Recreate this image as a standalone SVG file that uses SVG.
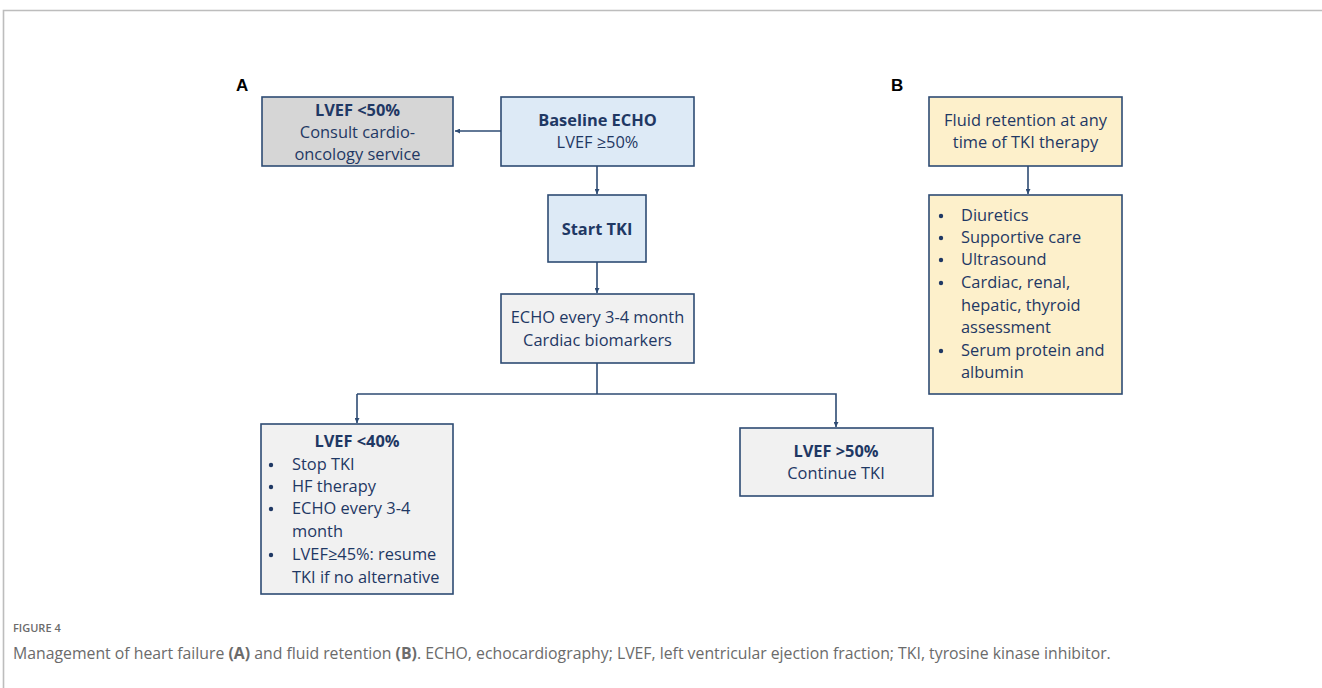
<svg xmlns="http://www.w3.org/2000/svg" width="1322" height="688" viewBox="0 0 1322 688">
  <style>
    .box { stroke: #2E4B73; stroke-width: 1.6; }
    .blue { fill: #DDEAF6; }
    .grey { fill: #D6D6D6; }
    .light { fill: #F1F1F1; }
    .yellow { fill: #FDF0CB; }
    .t { font-family: "Open Sans", "Liberation Sans", sans-serif; font-size: 16.4px; fill: #1F3864; }
    .b { font-weight: bold; }
    .mid { text-anchor: middle; }
    .dot { fill: #1F3864; }
    .panel { font-family: "Liberation Sans", Arial, sans-serif; font-size: 17px; font-weight: bold; fill: #000; }
    .conn { fill: none; stroke: #2E4B73; stroke-width: 1.6; }
    .cap-h { font-family: "Open Sans", "Liberation Sans", sans-serif; font-size: 11px; font-weight: 600; fill: #6B6B6B; }
    .cap { font-family: "Open Sans", "Liberation Sans", sans-serif; font-size: 15.8px; fill: #6B6B6B; }
  </style>
  <defs>
    <marker id="arrow" viewBox="0 0 10 10" refX="10" refY="5" markerWidth="5" markerHeight="5" orient="auto" markerUnits="userSpaceOnUse">
      <path d="M0,0 L10,5 L0,10 z" fill="#2E4B73"/>
    </marker>
  </defs>

  <rect x="0" y="0" width="1322" height="688" fill="#FFFFFF"/>
  <!-- figure frame -->
  <path d="M3.5,688 V10.5 H1322" fill="none" stroke="#BDBDBD" stroke-width="1.6"/>

  <!-- panel labels -->
  <text class="panel" x="236" y="91">A</text>
  <text class="panel" x="891" y="91">B</text>

  <!-- connectors -->
  <g id="connectors">
    <line class="conn" x1="501" y1="131" x2="455" y2="131" marker-end="url(#arrow)"/>
    <line class="conn" x1="597" y1="166" x2="597" y2="194" marker-end="url(#arrow)"/>
    <line class="conn" x1="597" y1="262" x2="597" y2="293" marker-end="url(#arrow)"/>
    <line class="conn" x1="597" y1="363" x2="597" y2="394"/>
    <polyline class="conn" points="357,394 836,394 836,427" marker-end="url(#arrow)"/>
    <line class="conn" x1="357" y1="394" x2="357" y2="423" marker-end="url(#arrow)"/>
    <line class="conn" x1="1028" y1="166" x2="1028" y2="194" marker-end="url(#arrow)"/>
  </g>

  <!-- panel A -->
  <g id="node-lvef-below-50">
    <rect class="box grey" x="262" y="97" width="191" height="69"/>
    <text class="t b mid" x="357.5" y="116">LVEF &lt;50%</text>
    <text class="t mid" x="357.5" y="138">Consult cardio-</text>
    <text class="t mid" x="357.5" y="160">oncology service</text>
  </g>

  <g id="node-baseline-echo">
    <rect class="box blue" x="501" y="97" width="193" height="69"/>
    <text class="t b mid" x="597.5" y="126">Baseline ECHO</text>
    <text class="t mid" x="597.5" y="148">LVEF ≥50%</text>
  </g>

  <g id="node-start-tki">
    <rect class="box blue" x="548" y="195" width="98" height="67"/>
    <text class="t b mid" x="597" y="235">Start TKI</text>
  </g>

  <g id="node-echo-monitoring">
    <rect class="box light" x="501" y="294" width="193" height="69"/>
    <text class="t mid" x="597.5" y="323">ECHO every 3-4 month</text>
    <text class="t mid" x="597.5" y="346">Cardiac biomarkers</text>
  </g>

  <g id="node-lvef-below-40">
    <rect class="box light" x="261" y="424" width="192" height="170"/>
    <text class="t b mid" x="357" y="447">LVEF &lt;40%</text>
    <circle class="dot" cx="271" cy="465" r="2.2"/>
    <circle class="dot" cx="271" cy="487" r="2.2"/>
    <circle class="dot" cx="271" cy="509" r="2.2"/>
    <circle class="dot" cx="271" cy="555" r="2.2"/>
    <g class="t">
      <text x="292" y="470">Stop TKI</text>
      <text x="292" y="492">HF therapy</text>
      <text x="292" y="514">ECHO every 3-4</text>
      <text x="292" y="537">month</text>
      <text x="292" y="560">LVEF≥45%: resume</text>
      <text x="292" y="583">TKI if no alternative</text>
    </g>
  </g>

  <g id="node-lvef-above-50">
    <rect class="box light" x="740" y="428" width="193" height="68"/>
    <text class="t b mid" x="836" y="457">LVEF &gt;50%</text>
    <text class="t mid" x="836" y="479">Continue TKI</text>
  </g>

  <!-- panel B -->
  <g id="node-fluid-retention">
    <rect class="box yellow" x="929" y="97" width="193" height="69"/>
    <text class="t mid" x="1025.5" y="126">Fluid retention at any</text>
    <text class="t mid" x="1025.5" y="148">time of TKI therapy</text>
  </g>

  <g id="node-fluid-management">
    <rect class="box yellow" x="929" y="195" width="193" height="199"/>
    <circle class="dot" cx="941" cy="216" r="2.2"/>
    <circle class="dot" cx="941" cy="238" r="2.2"/>
    <circle class="dot" cx="941" cy="260" r="2.2"/>
    <circle class="dot" cx="941" cy="283" r="2.2"/>
    <circle class="dot" cx="941" cy="351" r="2.2"/>
    <g class="t">
      <text x="961" y="221">Diuretics</text>
      <text x="961" y="243">Supportive care</text>
      <text x="961" y="265">Ultrasound</text>
      <text x="961" y="288">Cardiac, renal,</text>
      <text x="961" y="311">hepatic, thyroid</text>
      <text x="961" y="333">assessment</text>
      <text x="961" y="356">Serum protein and</text>
      <text x="961" y="378">albumin</text>
    </g>
  </g>

  <!-- caption -->
  <text class="cap-h" x="13" y="632">FIGURE 4</text>
  <text class="cap" x="13" y="659">Management of heart failure <tspan font-weight="bold">(A)</tspan> and fluid retention <tspan font-weight="bold">(B)</tspan>. ECHO, echocardiography; LVEF, left ventricular ejection fraction; TKI, tyrosine kinase inhibitor.</text>
</svg>
